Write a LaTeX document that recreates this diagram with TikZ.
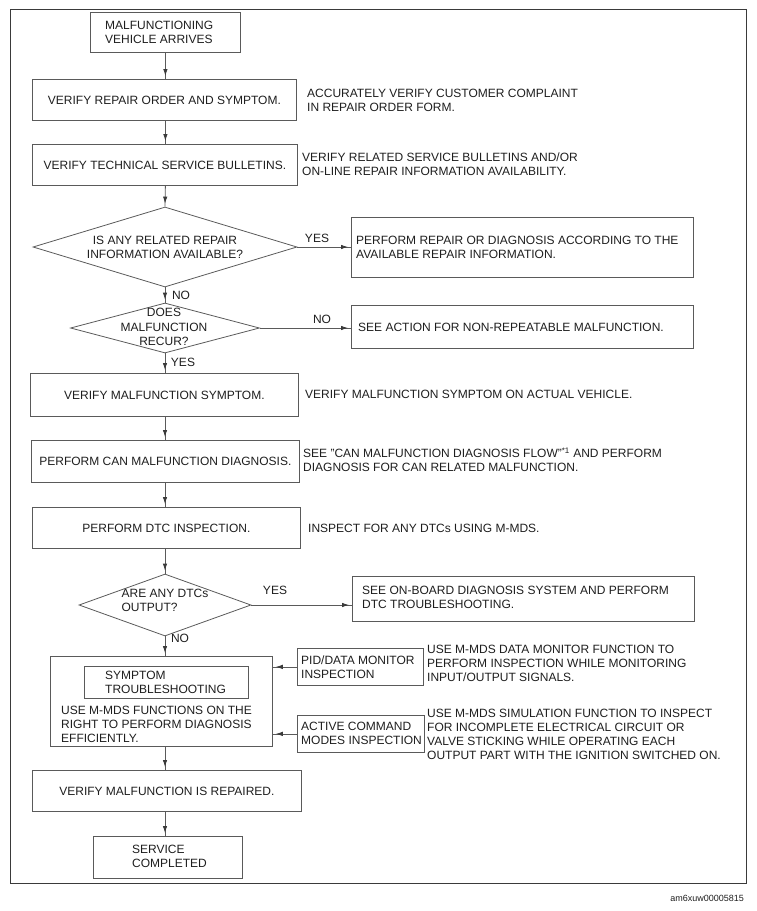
\documentclass[tikz,border=0pt]{standalone}
\usepackage{fontspec}
\setmainfont{Liberation Sans}
\usetikzlibrary{shapes.geometric,arrows.meta,decorations.markings}
\definecolor{ln}{HTML}{5A5A5A}
\definecolor{frm}{HTML}{3A3A3A}
\definecolor{txt}{HTML}{1E1E1E}
\begin{document}
\begin{tikzpicture}[x=1pt,y=-1pt,
  every node/.style={font=\fontsize{12}{14}\selectfont, text=txt},
  box/.style={draw=ln, line width=0.8pt, inner sep=0pt, anchor=north west, align=center},
  dia/.style={draw=ln, line width=0.8pt, diamond, inner sep=0pt},
  ltext/.style={anchor=west, align=left, inner sep=0pt},
  lbl/.style={inner sep=0pt},
  flowarr/.style={color=ln, line width=0.8pt, postaction={decorate},
    decoration={markings, mark=at position -3pt with {\arrow[frm]{Latex[length=7pt,width=4.5pt]}}}}]
\useasboundingbox (0,0) rectangle (756,911);
\draw[frm, line width=1pt] (10,9) rectangle (746,883);
\node[anchor=east, inner sep=0pt, font=\fontsize{9}{10}\selectfont] (code) at (744,898) {am6xuw00005815};

% main column
\node[box, minimum width=150, minimum height=40] (start) at (90,12) {};
\node[ltext] (startt) at (105,32) {MALFUNCTIONING\\VEHICLE ARRIVES};
\node[box, minimum width=264, minimum height=41] (b2) at (32,79) {VERIFY REPAIR ORDER AND SYMPTOM.};
\node[box, minimum width=265, minimum height=41] (b3) at (32,144) {VERIFY TECHNICAL SERVICE BULLETINS.};
\node[dia, minimum width=264, minimum height=80] (d1) at (165,247) {};
\node[align=center, inner sep=0pt] (d1t) at (165,247) {IS ANY RELATED REPAIR\\INFORMATION AVAILABLE?};
\node[dia, minimum width=189, minimum height=50] (d2) at (165,328) {};
\node[align=center, inner sep=0pt, font=\fontsize{12}{14.5}\selectfont] (d2t) at (164,327) {DOES\\MALFUNCTION\\RECUR?};
\node[box, minimum width=268, minimum height=43] (b6) at (30,373) {VERIFY MALFUNCTION SYMPTOM.};
\node[box, minimum width=268, minimum height=42] (b7) at (31,440) {PERFORM CAN MALFUNCTION DIAGNOSIS.};
\node[box, minimum width=268, minimum height=41] (b8) at (32,507) {PERFORM DTC INSPECTION.};
\node[dia, minimum width=172, minimum height=62] (d3) at (165,605) {};
\node[align=left, inner sep=0pt] (d3t) at (165,600) {ARE ANY DTCs\\OUTPUT?};
\node[box, minimum width=222, minimum height=90] (big) at (50,656) {};
\node[box, minimum width=164, minimum height=32] (inner) at (84,666) {};
\node[ltext] (innert) at (105,682) {SYMPTOM\\TROUBLESHOOTING};
\node[ltext] (bigt) at (61,724) {USE M-MDS FUNCTIONS ON THE\\RIGHT TO PERFORM DIAGNOSIS\\EFFICIENTLY.};
\node[box, minimum width=269, minimum height=41] (b11) at (32,770) {VERIFY MALFUNCTION IS REPAIRED.};
\node[box, minimum width=149, minimum height=42] (end) at (93,836) {};
\node[ltext] (endt) at (132,856) {SERVICE\\COMPLETED};

% right column boxes
\node[box, minimum width=342, minimum height=60] (b4) at (351,217) {};
\node[ltext] (b4t) at (356,247) {PERFORM REPAIR OR DIAGNOSIS ACCORDING TO THE\\AVAILABLE REPAIR INFORMATION.};
\node[box, minimum width=342, minimum height=43] (b5) at (351,305) {};
\node[ltext] (b5t) at (358,327) {SEE ACTION FOR NON-REPEATABLE MALFUNCTION.};
\node[box, minimum width=342, minimum height=45] (b9) at (352,576) {};
\node[ltext] (b9t) at (362,597) {SEE ON-BOARD DIAGNOSIS SYSTEM AND PERFORM\\DTC TROUBLESHOOTING.};
\node[box, minimum width=126, minimum height=37] (pid) at (297,648) {};
\node[ltext] (pidt) at (301,667) {PID/DATA MONITOR\\INSPECTION};
\node[box, minimum width=127, minimum height=37] (act) at (297,715) {};
\node[ltext] (actt) at (301,733) {ACTIVE COMMAND\\MODES INSPECTION};

% side notes
\node[ltext] (n2) at (307,100) {ACCURATELY VERIFY CUSTOMER COMPLAINT\\IN REPAIR ORDER FORM.};
\node[ltext] (n3) at (302,164.5) {VERIFY RELATED SERVICE BULLETINS AND/OR\\ON-LINE REPAIR INFORMATION AVAILABILITY.};
\node[ltext] (n6) at (305,394) {VERIFY MALFUNCTION SYMPTOM ON ACTUAL VEHICLE.};
\node[ltext] (n7) at (303,460) {SEE "CAN MALFUNCTION DIAGNOSIS FLOW"\textsuperscript{*1} AND PERFORM\\DIAGNOSIS FOR CAN RELATED MALFUNCTION.};
\node[ltext] (n8) at (308,528) {INSPECT FOR ANY DTCs USING M-MDS.};
\node[ltext] (npid) at (427,663) {USE M-MDS DATA MONITOR FUNCTION TO\\PERFORM INSPECTION WHILE MONITORING\\INPUT/OUTPUT SIGNALS.};
\node[ltext] (nact) at (427,734.5) {USE M-MDS SIMULATION FUNCTION TO INSPECT\\FOR INCOMPLETE ELECTRICAL CIRCUIT OR\\VALVE STICKING WHILE OPERATING EACH\\OUTPUT PART WITH THE IGNITION SWITCHED ON.};

% connectors
\draw[flowarr] (start.south) -- (start.south |- b2.north);
\draw[flowarr] (start.south |- b2.south) -- (start.south |- b3.north);
\draw[flowarr] (start.south |- b3.south) -- (d1.north);
\draw[flowarr] (d1.south) -- (d2.north);
\draw[flowarr] (d2.south) -- (d2.south |- b6.north);
\draw[flowarr] (d2.south |- b6.south) -- (d2.south |- b7.north);
\draw[flowarr] (d2.south |- b7.south) -- (d2.south |- b8.north);
\draw[flowarr] (d2.south |- b8.south) -- (d3.north);
\draw[flowarr] (d3.south) -- (d3.south |- big.north);
\draw[flowarr] (d3.south |- big.south) -- (d3.south |- b11.north);
\draw[flowarr] (d3.south |- b11.south) -- (d3.south |- end.north);
\draw[flowarr] (d1.east) -- (d1.east -| b4.west);
\draw[flowarr] (d2.east) -- (d2.east -| b5.west);
\draw[flowarr] (d3.east) -- (d3.east -| b9.west);
\draw[flowarr] (pid.west) -- (pid.west -| big.east);
\draw[flowarr] (act.west) -- (act.west -| big.east);

% connector labels
\node[lbl] (l1) at (317,238) {YES};
\node[lbl] (l2) at (181,295) {NO};
\node[lbl] (l3) at (322,319) {NO};
\node[lbl] (l4) at (183,362) {YES};
\node[lbl] (l5) at (275,590) {YES};
\node[lbl] (l6) at (180,638) {NO};
\end{tikzpicture}
\end{document}
